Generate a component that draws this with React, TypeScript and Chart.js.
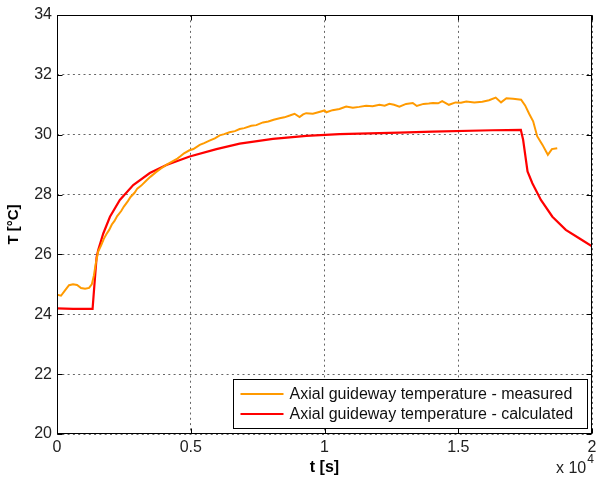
import { useEffect, useRef } from "react";
import { Chart, registerables } from "chart.js";

Chart.register(...registerables);

const measuredTime = [
  0, 150, 300, 450, 600, 750, 900, 1050, 1200, 1300, 1380, 1450, 1540, 1650, 1750, 1850, 1950, 2050,
  2150, 2250, 2400, 2500, 2650, 2750, 2900, 3000, 3150, 3350, 3500, 3700, 3900, 4100, 4300, 4500,
  4600, 4750, 4950, 5100, 5336, 5500, 5700, 5900, 6082, 6250, 6450, 6650, 6828, 7000, 7264, 7450,
  7699, 7900, 8100, 8321, 8500, 8700, 8881, 9067, 9200, 9316, 9565, 9800, 10000, 10070, 10300, 10560,
  10809, 11060, 11300, 11555, 11800, 12052, 12250, 12425, 12600, 12800, 13050, 13300, 13450, 13700,
  13900, 14050, 14250, 14400, 14650, 14900, 15100, 15300, 15600, 15900, 16150, 16400, 16600, 16800,
  17050, 17350, 17500, 17650, 17800, 17950, 18150, 18350, 18500, 18700,
];
const measuredTemp = [
  24.65, 24.62, 24.8, 24.97, 25.0, 24.98, 24.88, 24.85, 24.88, 25.0, 25.3, 25.7, 26.1, 26.3, 26.52,
  26.68, 26.82, 27.0, 27.12, 27.28, 27.45, 27.6, 27.78, 27.92, 28.06, 28.2, 28.3, 28.48, 28.6, 28.75,
  28.88, 29.0, 29.1, 29.2, 29.27, 29.38, 29.48, 29.52, 29.66, 29.72, 29.8, 29.88, 29.98, 30.02, 30.08,
  30.12, 30.19, 30.22, 30.3, 30.32, 30.41, 30.44, 30.5, 30.55, 30.58, 30.64, 30.7, 30.59, 30.68, 30.72,
  30.7, 30.76, 30.81, 30.75, 30.82, 30.86, 30.94, 30.9, 30.93, 30.97, 30.95, 31.0, 30.97, 31.03, 31.0,
  30.94, 31.03, 31.06, 30.96, 31.03, 31.04, 31.06, 31.05, 31.12, 31.0, 31.08, 31.07, 31.11, 31.08,
  31.1, 31.15, 31.24, 31.08, 31.22, 31.2, 31.17, 30.98, 30.7, 30.45, 29.95, 29.66, 29.33, 29.52, 29.55,
];

const calculatedTime = [
  0, 600, 1330, 1400, 1480, 1541, 1730, 1980, 2350, 2850, 3470, 4090, 4960, 5960, 6830, 8070, 9320,
  10560, 12800, 14040, 16280, 17340, 17425, 17590, 17770, 18090, 18520, 19020, 19520, 20000,
];
const calculatedTemp = [
  24.2, 24.18, 24.18, 25.0, 25.9, 26.15, 26.7, 27.26, 27.82, 28.32, 28.72, 28.99, 29.27, 29.52, 29.7,
  29.86, 29.96, 30.02, 30.07, 30.1, 30.15, 30.16, 29.83, 28.77, 28.38, 27.82, 27.26, 26.82, 26.54, 26.27,
];

const seriesLabels = [
  "Axial guideway temperature - measured",
  "Axial guideway temperature - calculated",
];
const seriesColors = ["#FF9A00", "#FF0000"];

const xTickValues = [0, 5000, 10000, 15000, 20000];
const xTickLabels = ["0", "0.5", "1", "1.5", "2"];
const yMin = 20;
const yMax = 34;
const yStep = 2;
const xTitle = "t [s]";
const yTitle = "T [°C]";
const xMultiplierBase = "x 10";
const xMultiplierExp = "4";

const FONT = "'Liberation Sans', Arial, sans-serif";

const framePlugin = {
  id: "matlabFrame",
  afterDatasetsDraw(chart: any) {
    const { ctx, chartArea: a, scales } = chart;
    const L = Math.round(a.left) + 0.5;
    const R = Math.round(a.right) - 0.5;
    const T = Math.round(a.top) + 0.5;
    const B = Math.round(a.bottom) - 0.5;
    ctx.save();
    ctx.strokeStyle = "#000";
    ctx.lineWidth = 1;
    ctx.setLineDash([]);
    ctx.strokeRect(L, T, R - L, B - T);
    const tl = 5;
    ctx.beginPath();
    for (const t of scales.x.ticks) {
      const x = Math.round(scales.x.getPixelForValue(t.value)) + 0.5;
      ctx.moveTo(x, B);
      ctx.lineTo(x, B - tl);
      ctx.moveTo(x, T);
      ctx.lineTo(x, T + tl);
    }
    for (const t of scales.y.ticks) {
      const y = Math.round(scales.y.getPixelForValue(t.value)) + 0.5;
      ctx.moveTo(L, y);
      ctx.lineTo(L + tl, y);
      ctx.moveTo(R, y);
      ctx.lineTo(R - tl, y);
    }
    ctx.stroke();

    // legend box
    ctx.font = `16px ${FONT}`;
    const datasets = chart.data.datasets;
    let textW = 0;
    for (const d of datasets) textW = Math.max(textW, ctx.measureText(d.label).width);
    const boxW = Math.round(56 + textW + 14);
    const boxH = 49;
    const bx = Math.round(a.right - 5 - boxW) + 0.5;
    const by = Math.round(a.bottom - 6 - boxH) + 0.5;
    ctx.fillStyle = "#fff";
    ctx.fillRect(bx, by, boxW, boxH);
    ctx.strokeStyle = "#000";
    ctx.strokeRect(bx, by, boxW, boxH);
    ctx.textBaseline = "middle";
    ctx.textAlign = "left";
    datasets.forEach((d: any, i: number) => {
      const cy = by + 14.5 + i * 20;
      ctx.strokeStyle = d.borderColor;
      ctx.lineWidth = 2;
      ctx.beginPath();
      ctx.moveTo(bx + 7, cy);
      ctx.lineTo(bx + 50, cy);
      ctx.stroke();
      ctx.fillStyle = "#111";
      ctx.fillText(d.label, bx + 56, cy + 1);
    });

    // x multiplier
    ctx.fillStyle = "#222";
    ctx.textBaseline = "alphabetic";
    ctx.font = `16px ${FONT}`;
    ctx.fillText(xMultiplierBase, 556, 473);
    const w = ctx.measureText(xMultiplierBase).width;
    ctx.font = `12px ${FONT}`;
    ctx.fillText(xMultiplierExp, 556 + w + 1, 463);
    ctx.restore();
  },
};

export default function App() {
  const ref = useRef<HTMLCanvasElement>(null);
  useEffect(() => {
    if (!ref.current) return;
    const chart = new Chart(ref.current, {
      type: "line",
      data: {
        datasets: [
          {
            label: seriesLabels[0],
            data: measuredTime.map((t, i) => ({ x: t, y: measuredTemp[i] })),
            borderColor: seriesColors[0],
            backgroundColor: seriesColors[0],
            borderWidth: 2,
            pointRadius: 0,
            tension: 0,
          },
          {
            label: seriesLabels[1],
            data: calculatedTime.map((t, i) => ({ x: t, y: calculatedTemp[i] })),
            borderColor: seriesColors[1],
            backgroundColor: seriesColors[1],
            borderWidth: 2.2,
            pointRadius: 0,
            tension: 0,
          },
        ],
      },
      options: {
        animation: false,
        responsive: false,
        layout: { padding: { top: 15, right: 4, left: 0, bottom: 0 } },
        plugins: { legend: { display: false }, tooltip: { enabled: false } },
        scales: {
          x: {
            type: "linear",
            min: 0,
            max: 20000,
            afterBuildTicks: (s: any) => {
              s.ticks = xTickValues.map((v) => ({ value: v }));
            },
            ticks: {
              callback: (v: any) => {
                const i = xTickValues.indexOf(Number(v));
                return i >= 0 ? xTickLabels[i] : "";
              },
              font: { family: FONT, size: 16 },
              color: "#222",
              padding: 4,
              maxRotation: 0,
              autoSkip: false,
            },
            grid: { color: "rgba(0,0,0,0.6)", lineWidth: 1, drawTicks: false },
            border: { display: false, dash: [2, 3.3] },
            title: {
              display: true,
              text: xTitle,
              font: { family: FONT, size: 16, weight: "bold", lineHeight: 1.2 },
              color: "#000",
              padding: { top: 0, bottom: 7 },
            },
            afterFit: (s: any) => {
              s.height = 50;
              s.paddingLeft = 0;
              s.paddingRight = 0;
            },
          },
          y: {
            type: "linear",
            min: yMin,
            max: yMax,
            ticks: {
              stepSize: yStep,
              font: { family: FONT, size: 16 },
              color: "#222",
              padding: 5,
            },
            grid: { color: "rgba(0,0,0,0.6)", lineWidth: 1, drawTicks: false },
            border: { display: false, dash: [2, 3.3] },
            title: {
              display: true,
              text: yTitle,
              font: { family: FONT, size: 15, weight: "bold", lineHeight: 1.2 },
              color: "#000",
              padding: { top: 5, bottom: 0 },
            },
            afterFit: (s: any) => {
              s.width = 57;
              s.paddingTop = 0;
              s.paddingBottom = 0;
            },
          },
        },
      },
      plugins: [framePlugin],
    } as any);
    return () => chart.destroy();
  }, []);
  return (
    <div style={{ position: "fixed", left: 0, top: 0, width: 596, height: 484, background: "#fff" }}>
      <canvas ref={ref} width={596} height={484} />
    </div>
  );
}
